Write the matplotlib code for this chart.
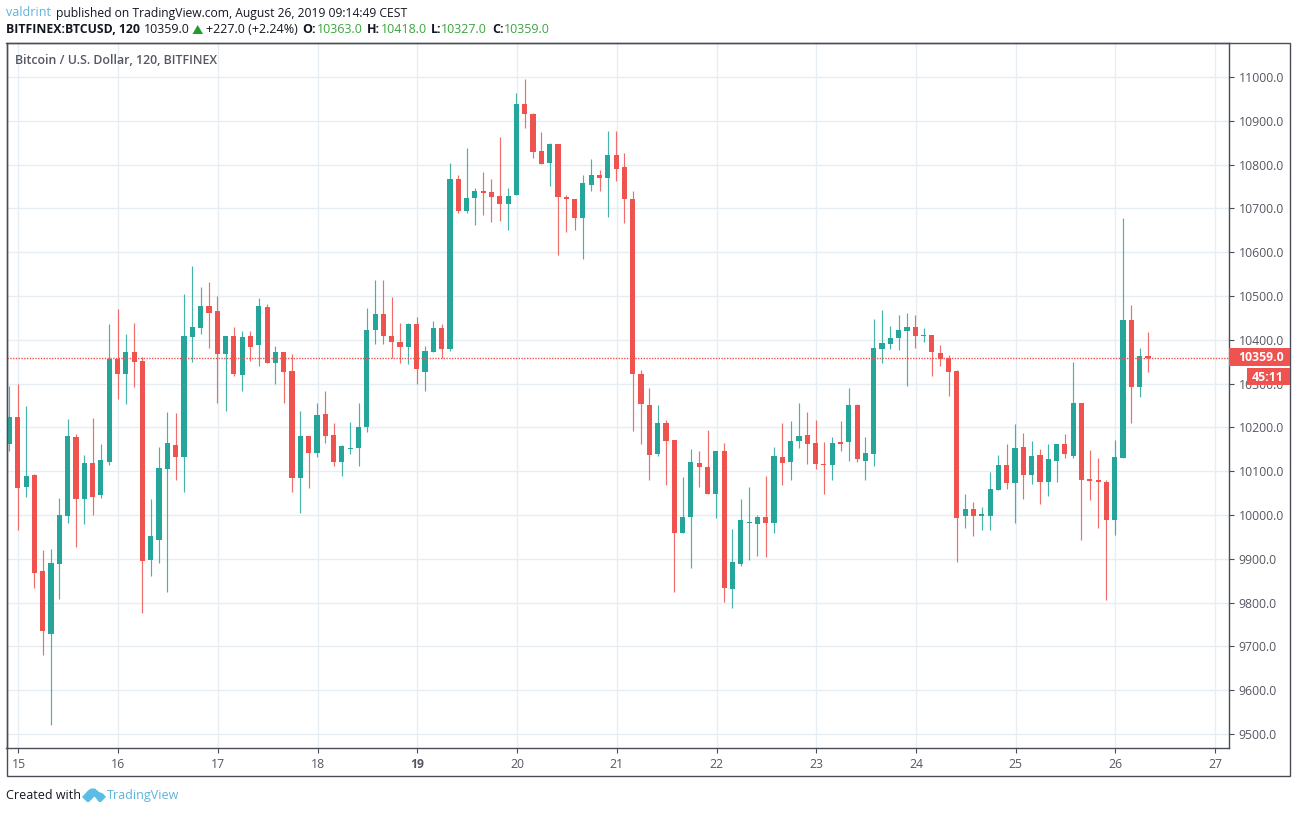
import numpy as np
import matplotlib
matplotlib.use("Agg")
import matplotlib.pyplot as plt
from matplotlib.patches import Rectangle, Polygon

plt.rcParams['font.family'] = ['Open Sans', 'DejaVu Sans']

# 2h candles, first one sits just before the "15" tick
opens = [10161, 10224, 10065, 10092, 9872, 9729, 9889, 9998, 10178, 10037, 10119, 10046,
         10122, 10356, 10323, 10372, 10352, 9898, 9944, 10106, 10160, 10133, 10407, 10428,
         10477, 10466, 10368, 10409, 10320, 10409, 10387, 10475, 10348, 10372, 10329, 10085,
         10180, 10141, 10231, 10182, 10120, 10151, 10152, 10200, 10422, 10460, 10409, 10396,
         10383, 10435, 10327, 10371, 10428, 10380, 10766, 10693, 10724, 10740, 10738, 10729,
         10711, 10730, 10939, 10916, 10830, 10803, 10848, 10727, 10722, 10677, 10753, 10777,
         10769, 10823, 10795, 10722, 10323, 10250, 10139, 10211, 10172, 9960, 9995, 10119,
         10110, 10049, 10147, 9830, 9889, 9982, 9979, 9996, 9981, 10133, 10120, 10168,
         10183, 10165, 10117, 10113, 10167, 10166, 10252, 10123, 10139, 10380, 10391, 10405,
         10421, 10430, 10408, 10410, 10370, 10358, 10329, 9997, 10014, 9997, 9998, 10058,
         10114, 10072, 10155, 10092, 10137, 10076, 10124, 10162, 10135, 10256, 10083, 10081,
         10076, 9989, 10131, 10446, 10293, 10363]
highs = [10295, 10298, 10249, 10094, 9920, 9922, 10039, 10219, 10185, 10137, 10221, 10162,
         10436, 10470, 10413, 10439, 10360, 10037, 10155, 10235, 10233, 10505, 10569, 10521,
         10532, 10500, 10409, 10429, 10421, 10421, 10495, 10482, 10386, 10372, 10368, 10237,
         10180, 10256, 10282, 10211, 10159, 10212, 10256, 10472, 10536, 10536, 10497, 10439,
         10439, 10451, 10385, 10444, 10437, 10803, 10777, 10839, 10747, 10782, 10768, 10864,
         10747, 10964, 10995, 10918, 10874, 10849, 10848, 10731, 10722, 10777, 10812, 10788,
         10876, 10877, 10827, 10740, 10330, 10291, 10250, 10218, 10172, 10086, 10151, 10147,
         10195, 10147, 10165, 9969, 10036, 10065, 10001, 10090, 10156, 10209, 10215, 10256,
         10236, 10218, 10167, 10177, 10215, 10291, 10254, 10177, 10447, 10467, 10431, 10457,
         10462, 10456, 10428, 10410, 10388, 10365, 10330, 10049, 10030, 10019, 10097, 10137,
         10161, 10208, 10187, 10170, 10151, 10162, 10162, 10186, 10350, 10256, 10149, 10130,
         10081, 10172, 10678, 10480, 10382, 10418]
lows = [10145, 9966, 10040, 9833, 9681, 9521, 9808, 9982, 9928, 9979, 10000, 10039,
        10113, 10265, 10253, 10293, 9777, 9861, 9891, 9825, 10080, 10053, 10350, 10414,
        10381, 10256, 10237, 10318, 10283, 10352, 10341, 10347, 10299, 10256, 10053, 10005,
        10062, 10132, 10165, 10111, 10088, 10139, 10111, 10189, 10391, 10391, 10359, 10348,
        10344, 10300, 10282, 10371, 10358, 10374, 10689, 10690, 10661, 10686, 10670, 10672,
        10651, 10730, 10884, 10816, 10801, 10750, 10593, 10645, 10651, 10585, 10740, 10740,
        10680, 10762, 10666, 10191, 10163, 10081, 10135, 10068, 9825, 9960, 9880, 10063,
        10049, 9994, 9802, 9788, 9883, 9897, 9907, 9903, 9960, 10068, 10079, 10154,
        10116, 10104, 10049, 10079, 10147, 10124, 10122, 10079, 10111, 10346, 10378, 10377,
        10294, 10382, 10396, 10317, 10341, 10272, 9892, 9970, 9951, 9966, 9966, 10058,
        10060, 9982, 10037, 10071, 10025, 10044, 10075, 10130, 10130, 9942, 10034, 9971,
        9807, 9955, 10131, 10209, 10269, 10327]
closes = [10224, 10062, 10089, 9868, 9736, 9890, 10000, 10180, 10037, 10119, 10040, 10126,
          10356, 10323, 10372, 10350, 9895, 9952, 10107, 10164, 10133, 10409, 10429, 10477,
          10462, 10368, 10409, 10322, 10406, 10384, 10477, 10348, 10372, 10327, 10085, 10180,
          10141, 10229, 10180, 10120, 10157, 10154, 10202, 10423, 10460, 10408, 10394, 10383,
          10435, 10333, 10375, 10428, 10380, 10768, 10693, 10724, 10740, 10734, 10727, 10711,
          10729, 10939, 10915, 10828, 10801, 10848, 10725, 10721, 10677, 10759, 10777, 10769,
          10823, 10791, 10721, 10323, 10253, 10136, 10211, 10170, 9960, 9996, 10122, 10109,
          10049, 10147, 9833, 9893, 9989, 9985, 9996, 9981, 10135, 10118, 10170, 10181,
          10161, 10116, 10113, 10165, 10161, 10252, 10127, 10142, 10382, 10393, 10405, 10423,
          10430, 10408, 10410, 10371, 10355, 10327, 9994, 10014, 9997, 10002, 10059, 10114,
          10072, 10153, 10092, 10135, 10076, 10128, 10162, 10140, 10256, 10081, 10078, 10076,
          9989, 10132, 10446, 10293, 10363, 10359]

day_labels = ['15', '16', '17', '18', '19', '20', '21', '22', '23', '24', '25', '26', '27']
price_ticks = [9500, 9600, 9700, 9800, 9900, 10000, 10100, 10200, 10300, 10400, 10500,
               10600, 10700, 10800, 10900, 11000]
last_price = 10359

W, H = 1296, 813
GREEN, RED = '#26a69a', '#ef5350'
GRID = '#e6eef3'
FRAME = '#4a4d57'
TEXT = '#555862'
BLUE = '#5fb3d9'

fig = plt.figure(figsize=(W / 100, H / 100), dpi=100)

# main pane, px: x 6.5..1229, y 43..748
ax = fig.add_axes([6.5 / W, 1 - 748 / H, (1229 - 6.5) / W, (748 - 43) / H])
x = np.arange(len(opens)) - 1
o, h, l, c = map(np.array, (opens, highs, lows, closes))
up = c >= o
colors = np.where(up, GREEN, RED)

ax.vlines(x, l, h, colors=colors, lw=0.85, alpha=0.85, zorder=3)
ax.bar(x, np.maximum(np.abs(c - o), 1.5), bottom=np.minimum(o, c), width=0.62, color=colors,
       linewidth=0, zorder=4)

ax.set_xlim(-1.36, 145.75)
ax.set_ylim(9468, 11077.6)

day_pos = np.arange(len(day_labels)) * 12 + 0.08
ax.set_xticks(day_pos)
ax.set_xticklabels(day_labels)
ax.set_yticks(price_ticks)
ax.set_yticklabels([f'{p:.1f}' for p in price_ticks])
ax.yaxis.tick_right()
ax.grid(True, color=GRID, lw=1, zorder=0)
ax.set_axisbelow(True)
ax.tick_params(axis='x', length=3.5, width=0.8, color=FRAME, labelcolor=TEXT, labelsize=8.8, pad=4)
ax.tick_params(axis='y', length=3.5, width=0.8, color=FRAME, labelcolor=TEXT, labelsize=8.8, pad=3.5)
ax.get_xticklabels()[4].set_fontweight('bold')
for s in ax.spines.values():
    s.set_color(FRAME)
    s.set_linewidth(1)

ax.axhline(last_price, color=RED, lw=1, ls=(0, (1, 1)), zorder=5)

# overlay in pixel coordinates for the tradingview chrome
ov = fig.add_axes([0, 0, 1, 1], zorder=10)
ov.set_xlim(0, W)
ov.set_ylim(H, 0)
ov.axis('off')
ov.patch.set_alpha(0)

ov.add_patch(Rectangle((6.5, 43), 1283.5, 733, fill=False, ec=FRAME, lw=1))
ov.add_patch(Rectangle((1229, 348), 61, 18, fc=RED, ec='none'))
ov.add_patch(Rectangle((1247, 368), 43, 17, fc=RED, ec='none', zorder=5))
ov.text(1238, 357.5, '10359.0', color='white', fontsize=8.8, fontweight='bold', va='center')
ov.text(1251.5, 377, '45:11', color='white', fontsize=8.8, fontweight='bold', va='center', zorder=6)

ov.text(15, 60.5, 'Bitcoin / U.S. Dollar, 120, BITFINEX', color=TEXT, fontsize=8.9, fontweight='semibold', va='center')

# header
DARK = '#131722'
G2 = '#3ba53f'
ov.text(6, 13, 'valdrint', color=BLUE, fontsize=9, va='center')
ov.text(55.5, 13, 'published on TradingView.com, August 26, 2019 09:14:49 CEST', color=DARK, fontsize=8.75, va='center')
ov.text(6, 29.5, 'BITFINEX:BTCUSD, 120', color=DARK, fontsize=8.8, fontweight='bold', va='center')
ov.text(143.5, 29.5, '10359.0', color=DARK, fontsize=9, va='center')
ov.add_patch(Polygon([(192.5, 34), (203, 34), (197.7, 25)], fc='#1e9e2e', ec='none'))
ov.text(206, 29.5, '+227.0 (+2.24%)', color=DARK, fontsize=9, va='center')
for lab, val, xl, xv in [('O:', '10363.0', 302, 317), ('H:', '10418.0', 366.5, 381),
                         ('L:', '10327.0', 430.5, 441), ('C:', '10359.0', 492, 503.5)]:
    ov.text(xl, 29.5, lab, color=DARK, fontsize=9, fontweight='bold', va='center')
    ov.text(xv, 29.5, val, color=G2, fontsize=9, va='center')

# footer with logo
ov.text(6, 795.5, 'Created with', color=DARK, fontsize=9, va='center')
ov.add_patch(Polygon([(82, 797), (88, 790.5), (91, 788.5), (95, 788.5), (99, 792), (103, 793.5),
                      (106, 797), (101, 802), (99, 802), (94.5, 796.5), (89, 802), (87, 802)],
                     fc='#5bbce4', ec='none'))
ov.text(107, 795.5, 'TradingView', color=BLUE, fontsize=9, va='center')

fig.savefig('out.png', dpi=100, facecolor='white')
